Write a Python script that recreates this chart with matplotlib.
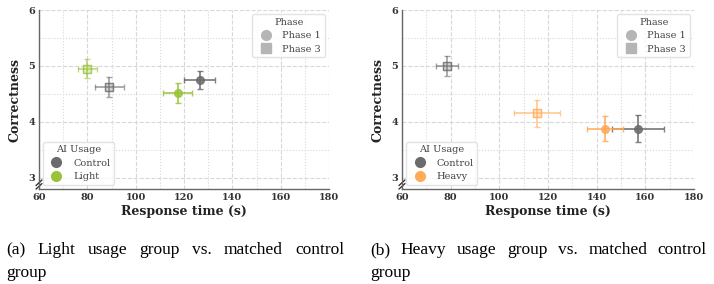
import matplotlib
matplotlib.use("Agg")
import matplotlib.pyplot as plt
from matplotlib.lines import Line2D
from matplotlib.ticker import MultipleLocator

# ---- data ----
groups_a = ["Control", "Light"]
groups_b = ["Control", "Heavy"]
phases = ["Phase 1", "Phase 3"]

# panel (a): x, xerr, y, yerr
a_control_p1 = [126.5, 6.5, 4.75, 0.16]
a_control_p3 = [89.0, 6.0, 4.62, 0.18]
a_light_p1 = [117.5, 6.0, 4.52, 0.18]
a_light_p3 = [80.0, 4.0, 4.95, 0.17]

# panel (b)
b_control_p1 = [157.0, 10.5, 3.88, 0.24]
b_control_p3 = [78.5, 4.5, 5.0, 0.18]
b_heavy_p1 = [143.5, 7.5, 3.88, 0.23]
b_heavy_p3 = [115.5, 9.5, 4.15, 0.24]

x_ticks = [60, 80, 100, 120, 140, 160, 180]
y_ticks = [3, 4, 5, 6]

captions = ["(a) Light usage group vs. matched control group",
            "(b) Heavy usage group vs. matched control group"]

colors = {"Control": "#6b6b6b", "Light": "#99c43a", "Heavy": "#ffab57"}

plt.rcParams["font.family"] = ["DejaVu Serif"]

fig = plt.figure(figsize=(7.14, 2.84), dpi=100)
ax1 = fig.add_axes([39 / 714, 1 - 189 / 284, 290 / 714, 179 / 284])
ax2 = fig.add_axes([402 / 714, 1 - 189 / 284, 292 / 714, 179 / 284])


def draw_point(ax, vals, color, phase):
    x, xe, y, ye = vals
    if phase == "Phase 1":
        ax.errorbar([x], [y], xerr=[xe], yerr=[ye], fmt="o", color=color,
                    ms=5.5, capsize=2.5, elinewidth=1.3, capthick=1.0, alpha=0.85, zorder=3)
    else:
        ax.errorbar([x], [y], xerr=[xe], yerr=[ye], fmt="none", ecolor=color,
                    capsize=2.5, elinewidth=1.3, capthick=1.0, alpha=0.6, zorder=3)
        ax.plot([x], [y], marker="s", ms=6, mfc=color, mec=color, alpha=0.3,
                ls="none", zorder=4)
        ax.plot([x], [y], marker="s", ms=6, mfc="none", mec=color, mew=1.0,
                alpha=0.75, ls="none", zorder=4)


def style(ax, g2):
    ax.set_xlim(60, 180)
    ax.set_ylim(2.8, 6.0)
    ax.set_xticks(x_ticks)
    ax.set_yticks(y_ticks)
    ax.xaxis.set_minor_locator(MultipleLocator(10))
    ax.yaxis.set_minor_locator(MultipleLocator(0.5))
    ax.grid(True, which="major", ls="--", lw=0.8, color="#d8d8d8")
    ax.grid(True, which="minor", ls=":", lw=0.8, color="#d8d8d8")
    ax.set_axisbelow(True)
    for s in ["top", "right"]:
        ax.spines[s].set_visible(False)
    for s in ["left", "bottom"]:
        ax.spines[s].set_color("#666666")
        ax.spines[s].set_linewidth(1.0)
    ax.tick_params(which="both", length=0, labelsize=7, pad=3)
    for lab in ax.get_xticklabels() + ax.get_yticklabels():
        lab.set_fontweight("bold")
        lab.set_color("#333333")
    ax.set_xlabel("Response time (s)", fontsize=9, fontweight="bold", labelpad=2,
                  color="#222222")
    ax.set_ylabel("Correctness", fontsize=9, fontweight="bold", labelpad=5,
                  color="#222222")
    # axis break marker
    for dy in (0.0, 0.02):
        ax.plot([-0.010, 0.010], [0.0 + dy, 0.03 + dy],
                transform=ax.transAxes, color="#222222", lw=0.9, clip_on=False)
    # legends
    kw = dict(fontsize=7, title_fontsize=7, frameon=True, borderpad=0.4,
              handletextpad=0.7, labelspacing=0.45, borderaxespad=0.4)
    ph_handles = [Line2D([], [], marker="o", ls="none", color="#b5b5b5", ms=7),
                  Line2D([], [], marker="s", ls="none", color="#b5b5b5", ms=7)]
    leg1 = ax.legend(ph_handles, phases, title="Phase", loc="upper right", **kw)
    leg1.get_frame().set_edgecolor("#dddddd")
    for t in leg1.get_texts():
        t.set_color("#444444")
    leg1.get_title().set_color("#444444")
    ax.add_artist(leg1)
    g_handles = [Line2D([], [], marker="o", ls="none", color=colors[g], ms=7)
                 for g in g2]
    leg2 = ax.legend(g_handles, g2, title="AI Usage", loc="lower left", **kw)
    leg2.get_frame().set_edgecolor("#dddddd")
    for t in leg2.get_texts():
        t.set_color("#444444")
    leg2.get_title().set_color("#444444")


draw_point(ax1, a_control_p1, colors["Control"], "Phase 1")
draw_point(ax1, a_control_p3, colors["Control"], "Phase 3")
draw_point(ax1, a_light_p1, colors["Light"], "Phase 1")
draw_point(ax1, a_light_p3, colors["Light"], "Phase 3")
style(ax1, groups_a)

draw_point(ax2, b_control_p1, colors["Control"], "Phase 1")
draw_point(ax2, b_control_p3, colors["Control"], "Phase 3")
draw_point(ax2, b_heavy_p1, colors["Heavy"], "Phase 1")
draw_point(ax2, b_heavy_p3, colors["Heavy"], "Phase 3")
style(ax2, groups_b)

# ---- captions (justified first line) ----
renderer = fig.canvas.get_renderer()
cap_font = dict(family=["Liberation Serif"], fontsize=12.5, color="black")


def justified(caption, x0, x1, y1, y2):
    words = caption.split()
    line1, line2 = words[:-1], words[-1:]
    texts = [fig.text(0, 0, w, **cap_font) for w in line1]
    widths = [t.get_window_extent(renderer).width for t in texts]
    gap = (x1 - x0 - sum(widths)) / (len(line1) - 1)
    xp = x0
    for t, w in zip(texts, widths):
        t.set_position((xp / 714, 1 - y1 / 284))
        xp += w + gap
    fig.text(x0 / 714, 1 - y2 / 284, " ".join(line2), **cap_font)


justified(captions[0], 6, 344, 254, 277)
justified(captions[1], 370, 707, 254, 277)

fig.savefig("out.png", dpi=100)
